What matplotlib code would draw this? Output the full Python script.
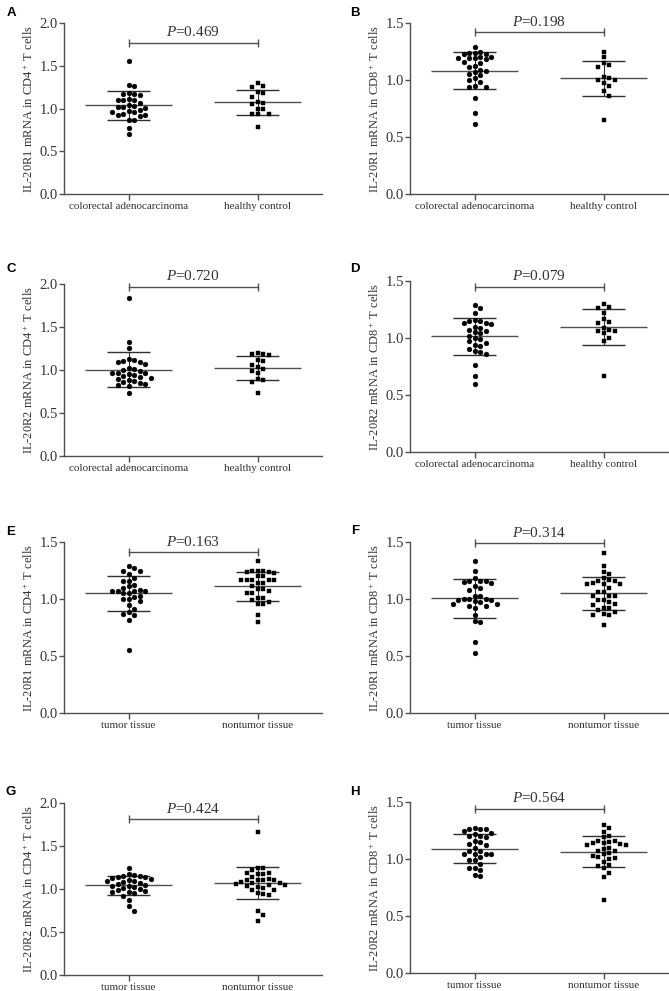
import numpy as np
import matplotlib
matplotlib.use("Agg")
import matplotlib.pyplot as plt

plt.rcParams['font.family'] = ['Liberation Serif', 'DejaVu Serif']
plt.rcParams['mathtext.fontset'] = 'custom'
plt.rcParams['mathtext.rm'] = 'Liberation Serif'
plt.rcParams['mathtext.it'] = 'Liberation Serif:italic'

# ---------------- data ----------------
groups_blood = ["colorectal adenocarcinoma", "healthy control"]
groups_tissue = ["tumor tissue", "nontumor tissue"]

A_crc = [1.55, 1.28, 1.26, 1.18, 1.17, 1.17, 1.16, 1.11, 1.10, 1.10, 1.10, 1.06, 1.04, 1.03, 1.02,
         1.02, 1.01, 0.98, 0.97, 0.96, 0.96, 0.93, 0.92, 0.92, 0.91, 0.86, 0.86, 0.77, 0.70]
A_hc = [1.30, 1.26, 1.25, 1.19, 1.18, 1.13, 1.08, 1.07, 1.05, 1.00, 0.99, 0.94, 0.93, 0.93, 0.78]

B_crc = [1.29, 1.25, 1.24, 1.24, 1.23, 1.23, 1.20, 1.20, 1.19, 1.19, 1.19, 1.18, 1.16, 1.15, 1.12,
         1.11, 1.09, 1.08, 1.07, 1.05, 1.04, 1.02, 1.00, 0.98, 0.95, 0.94, 0.94, 0.84, 0.71, 0.61]
B_hc = [1.25, 1.20, 1.15, 1.13, 1.11, 1.03, 1.02, 1.00, 1.00, 0.97, 0.95, 0.90, 0.86, 0.65]

C_crc = [1.84, 1.33, 1.26, 1.13, 1.12, 1.11, 1.09, 1.09, 1.07, 1.02, 1.01, 1.00, 0.99, 0.97, 0.97,
         0.96, 0.95, 0.94, 0.93, 0.92, 0.91, 0.90, 0.88, 0.87, 0.86, 0.85, 0.84, 0.82, 0.81, 0.73]
C_hc = [1.20, 1.19, 1.19, 1.17, 1.12, 1.10, 1.06, 1.03, 1.01, 0.99, 0.96, 0.89, 0.88, 0.86, 0.73]

D_crc = [1.29, 1.26, 1.22, 1.16, 1.15, 1.15, 1.13, 1.13, 1.12, 1.10, 1.09, 1.07, 1.06, 1.05, 1.04,
         1.02, 1.00, 0.99, 0.97, 0.96, 0.94, 0.93, 0.90, 0.89, 0.88, 0.86, 0.76, 0.67, 0.60]
D_hc = [1.30, 1.27, 1.26, 1.22, 1.17, 1.14, 1.13, 1.09, 1.07, 1.06, 1.06, 1.04, 1.00, 0.97, 0.67]

E_tumor = [1.29, 1.27, 1.25, 1.25, 1.22, 1.18, 1.16, 1.16, 1.12, 1.11, 1.10, 1.08, 1.07, 1.07, 1.07,
           1.07, 1.05, 1.05, 1.03, 1.02, 1.00, 1.00, 0.98, 0.95, 0.91, 0.89, 0.87, 0.86, 0.82, 0.55]
E_non = [1.33, 1.25, 1.25, 1.25, 1.24, 1.24, 1.23, 1.20, 1.20, 1.17, 1.17, 1.17, 1.17, 1.17, 1.14,
         1.14, 1.11, 1.09, 1.09, 1.07, 1.05, 1.05, 1.01, 1.01, 0.99, 0.97, 0.96, 0.96, 0.86, 0.80]

F_tumor = [1.33, 1.25, 1.18, 1.16, 1.16, 1.16, 1.15, 1.14, 1.11, 1.10, 1.08, 1.03, 1.03, 1.00, 1.00,
           1.00, 0.99, 0.99, 0.98, 0.97, 0.96, 0.96, 0.94, 0.94, 0.92, 0.86, 0.81, 0.80, 0.62, 0.53]
F_non = [1.40, 1.29, 1.24, 1.22, 1.18, 1.17, 1.16, 1.16, 1.14, 1.13, 1.13, 1.13, 1.10, 1.06, 1.06,
         1.03, 1.03, 1.03, 0.99, 0.99, 0.97, 0.96, 0.95, 0.92, 0.92, 0.90, 0.89, 0.87, 0.86, 0.86, 0.77]

G_tumor = [1.24, 1.17, 1.16, 1.15, 1.15, 1.14, 1.14, 1.13, 1.12, 1.10, 1.09, 1.09, 1.08, 1.07, 1.06,
           1.05, 1.04, 1.03, 1.02, 1.01, 1.00, 0.99, 0.98, 0.97, 0.96, 0.95, 0.92, 0.87, 0.80, 0.75]
G_non = [1.66, 1.25, 1.24, 1.22, 1.19, 1.19, 1.17, 1.17, 1.14, 1.12, 1.11, 1.11, 1.10, 1.10, 1.08,
         1.07, 1.07, 1.06, 1.05, 1.05, 1.04, 1.02, 1.01, 0.99, 0.99, 0.95, 0.94, 0.93, 0.75, 0.70, 0.63]

H_tumor = [1.27, 1.26, 1.26, 1.26, 1.25, 1.23, 1.22, 1.20, 1.20, 1.19, 1.16, 1.15, 1.13, 1.12, 1.10,
           1.07, 1.07, 1.04, 1.04, 1.04, 1.04, 1.02, 0.99, 0.99, 0.96, 0.92, 0.92, 0.90, 0.86, 0.85]
H_non = [1.30, 1.27, 1.24, 1.20, 1.19, 1.16, 1.16, 1.15, 1.14, 1.14, 1.13, 1.12, 1.12, 1.10, 1.09,
         1.07, 1.07, 1.05, 1.04, 1.03, 1.02, 1.01, 1.00, 0.97, 0.95, 0.94, 0.92, 0.88, 0.84, 0.64]

p_values = ["0.469", "0.198", "0.720", "0.079", "0.163", "0.314", "0.424", "0.564"]
letters = ["A", "B", "C", "D", "E", "F", "G", "H"]
ylabels = [
    r"IL-20R1 mRNA in CD4$^+$ T cells", r"IL-20R1 mRNA in CD8$^+$ T cells",
    r"IL-20R2 mRNA in CD4$^+$ T cells", r"IL-20R2 mRNA in CD8$^+$ T cells",
    r"IL-20R1 mRNA in CD4$^+$ T cells", r"IL-20R1 mRNA in CD8$^+$ T cells",
    r"IL-20R2 mRNA in CD4$^+$ T cells", r"IL-20R2 mRNA in CD8$^+$ T cells",
]
ymaxes = [2.0, 1.5, 2.0, 1.5, 1.5, 1.5, 2.0, 1.5]
bracket_y = [1.77, 1.42, 1.97, 1.45, 1.41, 1.49, 1.81, 1.44]
datasets = [(A_crc, A_hc), (B_crc, B_hc), (C_crc, C_hc), (D_crc, D_hc),
            (E_tumor, E_non), (F_tumor, F_non), (G_tumor, G_non), (H_tumor, H_non)]
group_labels = [groups_blood] * 4 + [groups_tissue] * 4

# ---------------- layout ----------------
W, H = 669, 991
fig = plt.figure(figsize=(W / 100, H / 100), dpi=100)

col_left = [64, 410]
ax_w = 258
rows_px = [[(23, 194), (23, 194)], [(284, 456), (281, 452)],
           [(542, 713), (542, 713)], [(803, 975), (802, 973)]]
letter_pos = [(11, 13), (355, 13), (11, 269), (355, 269),
              (11, 532), (355, 531), (11, 792), (355, 792)]

TXT = "#333333"
LINE = "#505050"


def swarm_x(ax, x0, vals, dpx):
    vals = np.asarray(vals, float)
    pts = ax.transData.transform(np.column_stack([np.full(len(vals), x0), vals]))
    ys = pts[:, 1]
    order = np.argsort(-vals, kind="stable")
    placed = []
    offs = np.zeros(len(vals))
    for i in order:
        y = ys[i]
        for k in range(60):
            cand = 0.0 if k == 0 else ((k + 1) // 2) * dpx * (1 if k % 2 else -1)
            if all((cand - px) ** 2 + (y - py) ** 2 >= (dpx * 0.98) ** 2 for px, py in placed):
                break
        placed.append((cand, y))
        offs[i] = cand
    newpts = np.column_stack([pts[:, 0] + offs, ys])
    return ax.transData.inverted().transform(newpts)[:, 0]


for idx in range(8):
    r, c = divmod(idx, 2)
    top, bot = rows_px[r][c]
    ax = fig.add_axes([col_left[c] / W, 1 - bot / H, ax_w / W, (bot - top) / H])
    ymax = ymaxes[idx]
    ax.set_xlim(-0.5, 1.5)
    ax.set_ylim(0, ymax)
    for s in ["top", "right"]:
        ax.spines[s].set_visible(False)
    for s in ["left", "bottom"]:
        ax.spines[s].set_color(LINE)
        ax.spines[s].set_linewidth(1.0)
    ax.set_yticks(np.arange(0, ymax + 0.01, 0.5))
    ax.set_yticklabels([f"{v:.1f}" for v in np.arange(0, ymax + 0.01, 0.5)])
    ax.set_xticks([0, 1])
    ax.set_xticklabels(group_labels[idx])
    ax.tick_params(axis="y", direction="out", length=3.5, width=1, color=LINE,
                   labelsize=10.5, labelcolor=TXT, pad=1)
    ax.tick_params(axis="x", direction="out", length=4, width=1, color=LINE,
                   labelsize=8, labelcolor=TXT, pad=2)
    ax.set_ylabel(ylabels[idx], fontsize=9, color=TXT)
    ax.yaxis.set_label_coords(-0.108, 0.5)

    g0, g1 = datasets[idx]
    for gi, (vals, mk, ms) in enumerate([(g0, "o", 3.5), (g1, "s", 3.4)]):
        xs = swarm_x(ax, gi, vals, 5.5)
        ax.plot(xs, vals, ls="none", marker=mk, ms=ms, color="black", mec="black",
                mew=0.3, zorder=3, clip_on=False)
        m = np.mean(vals)
        sd = np.std(vals, ddof=1)
        ax.hlines(m, gi - 0.335, gi + 0.335, color=LINE, lw=1.0, zorder=2)
        ax.hlines([m - sd, m + sd], gi - 0.17, gi + 0.17, color="#303030", lw=1.0, zorder=2)
        ax.vlines(gi, m - sd, m + sd, color="#303030", lw=0.8, zorder=2)

    yb = bracket_y[idx]
    ax.plot([0, 1], [yb, yb], color=LINE, lw=1.0, clip_on=False)
    ax.plot([0, 1], [yb, yb], ls="none", marker="|", ms=5.5, mew=1.0, color=LINE, clip_on=False)
    ax.annotate(r"$P$=" + p_values[idx], xy=(0.5, yb), xytext=(0, 2.5),
                textcoords="offset points", ha="center", va="bottom",
                fontsize=11, color=TXT, annotation_clip=False)

    lx, ly = letter_pos[idx]
    fig.text(lx / W, 1 - ly / H, letters[idx], ha="center", va="center",
             fontsize=9.5, fontweight="bold", family=["Liberation Sans", "DejaVu Sans"],
             color="black")

fig.savefig("out.png", dpi=100)
